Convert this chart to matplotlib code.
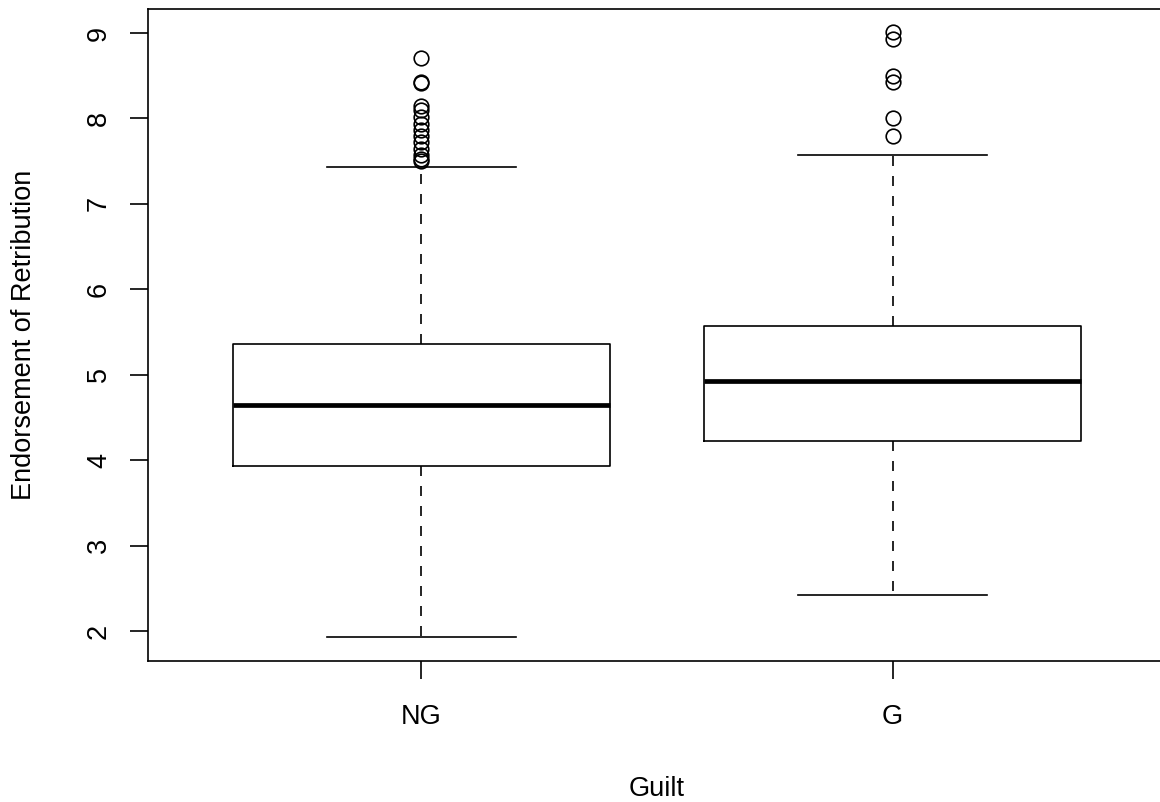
import matplotlib
matplotlib.use("Agg")
import matplotlib.pyplot as plt

plt.rcParams['font.family'] = ['Liberation Sans', 'DejaVu Sans']

# box statistics per guilt group
groups = ['NG', 'G']
q1 = [3.93, 4.22]
med = [4.64, 4.93]
q3 = [5.36, 5.57]
whislo = [1.93, 2.42]
whishi = [7.43, 7.57]
fliers = [
    [8.71, 8.43, 8.41, 8.15, 8.10, 8.02, 7.93, 7.86, 7.79, 7.72,
     7.64, 7.57, 7.52, 7.50],
    [9.01, 8.93, 8.50, 8.43, 8.00, 7.79],
]

stats = []
for i, g in enumerate(groups):
    stats.append(dict(label=g, q1=q1[i], med=med[i], q3=q3[i],
                      whislo=whislo[i], whishi=whishi[i], fliers=fliers[i]))

W, H = 1160, 802
fig = plt.figure(figsize=(W / 100, H / 100), dpi=100)
ax = fig.add_axes([148 / W, 1 - 661 / H, (1166 - 148) / W, (661 - 9) / H])

lw = 1.2
fs = 19.5
ax.bxp(stats, positions=[1, 2], widths=0.8,
       boxprops=dict(color='black', linewidth=lw),
       medianprops=dict(color='black', linewidth=3.4, solid_capstyle='butt'),
       whiskerprops=dict(color='black', linewidth=lw, linestyle=(0, (6, 6))),
       capprops=dict(color='black', linewidth=lw),
       capwidths=0.4,
       flierprops=dict(marker='o', markersize=10.5, markerfacecolor='none',
                       markeredgecolor='black', markeredgewidth=lw,
                       linestyle='none'))

ax.set_xlim(0.42, 2.58)
ax.set_ylim(1.649, 9.281)
ax.set_yticks(range(2, 10))
ax.set_xticks([1, 2])
ax.set_xticklabels(groups)

for s in ax.spines.values():
    s.set_linewidth(lw)

ax.tick_params(axis='both', length=13, width=lw, labelsize=fs, direction='out')
ax.tick_params(axis='x', pad=18)
ax.tick_params(axis='y', pad=13)
for t in ax.get_yticklabels():
    t.set_rotation(90)
    t.set_va('center')

ax.set_xlabel('Guilt', fontsize=fs, labelpad=33)
ax.set_ylabel('Endorsement of Retribution', fontsize=fs, labelpad=35)

fig.savefig('out.png', dpi=100)
